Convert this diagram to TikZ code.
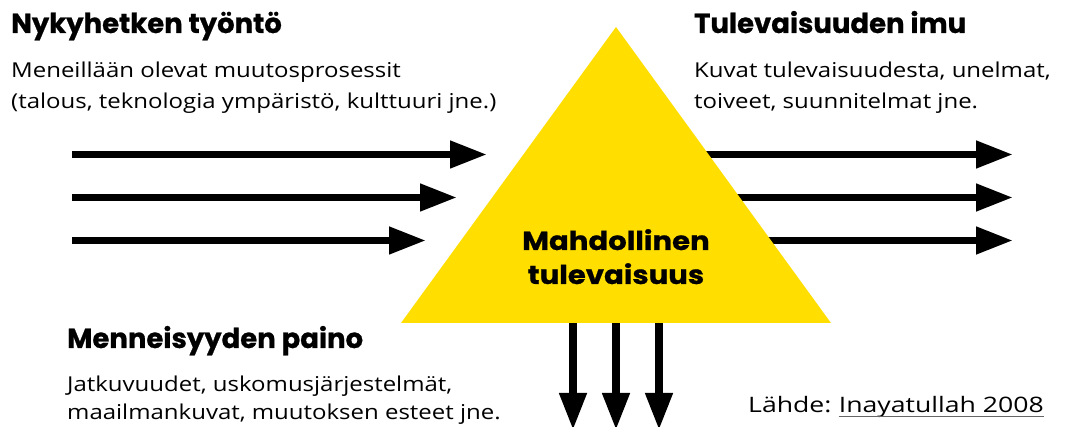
\documentclass[tikz,border=0pt]{standalone}
\usepackage{fontspec}
\usetikzlibrary{arrows.meta}
\setmainfont{Open Sans}
\newfontfamily\bodyfont{Open Sans}[FakeStretch=1.17]
\newfontfamily\srcfont{Open Sans}[FakeStretch=1.25]
\newfontfamily\headfont{Poppins}[BoldFeatures={FakeBold=0.8}]
\newfontfamily\midfont{Poppins}[FakeStretch=1.12, BoldFeatures={FakeBold=0.8}]
\definecolor{tyellow}{HTML}{FFDE00}
\definecolor{linkgray}{HTML}{666666}
\begin{document}
\begin{tikzpicture}[x=1pt,y=-1pt,
  head/.style={anchor=base west, inner sep=0pt, font=\headfont\bfseries\fontsize{27.5}{30}\selectfont},
  midhead/.style={anchor=base, inner sep=0pt, font=\midfont\bfseries\fontsize{26}{28}\selectfont},
  body/.style={anchor=base west, inner sep=0pt, font=\bodyfont\fontsize{20.5}{24}\selectfont},
  srcstyle/.style={anchor=base west, inner sep=0pt, font=\srcfont\fontsize{21.3}{24}\selectfont},
  arr/.style={line width=7.5pt, -{Triangle[length=37pt,width=26pt]}}]
\useasboundingbox (0,0) rectangle (1088,427);
% coordinates
\coordinate (apex) at (616,27);
\coordinate (bl) at (401,323);
\coordinate (br) at (831,323);
\coordinate (l1s) at (72,154.5);  \coordinate (l1e) at (487,154.5);
\coordinate (l2s) at (72,197.5);  \coordinate (l2e) at (457,197.5);
\coordinate (l3s) at (72,240.5);  \coordinate (l3e) at (426,240.5);
\coordinate (r1s) at (616,154.5); \coordinate (r1e) at (1013,154.5);
\coordinate (r2s) at (616,197.5); \coordinate (r2e) at (1013,197.5);
\coordinate (r3s) at (616,240.5); \coordinate (r3e) at (1013,240.5);
\coordinate (d1s) at (573,300);   \coordinate (d1e) at (573,430);
\coordinate (d2s) at (616,300);   \coordinate (d2e) at (616,430);
\coordinate (d3s) at (659,300);   \coordinate (d3e) at (659,430);
% arrows
\draw[arr] (l1s) -- (l1e);
\draw[arr] (l2s) -- (l2e);
\draw[arr] (l3s) -- (l3e);
\draw[arr] (r1s) -- (r1e);
\draw[arr] (r2s) -- (r2e);
\draw[arr] (r3s) -- (r3e);
\draw[arr] (d1s) -- (d1e);
\draw[arr] (d2s) -- (d2e);
\draw[arr] (d3s) -- (d3e);
% triangle
\fill[tyellow] (apex) -- (br) -- (bl) -- cycle;
\node[midhead] (m1) at (616,250) {Mahdollinen};
\node[midhead] (m2) at (616,284) {tulevaisuus};
% texts
\node[head] (h1) at (11,33) {Nykyhetken työntö};
\node[body] (b1a) at (11,78) {Meneillään olevat muutosprosessit};
\node[body] (b1b) at (11,108.5) {(talous, teknologia ympäristö, kulttuuri jne.)};
\node[head] (h2) at (694,33) {Tulevaisuuden imu};
\node[body] (b2a) at (694,78) {Kuvat tulevaisuudesta, unelmat,};
\node[body] (b2b) at (694,108.5) {toiveet, suunnitelmat jne.};
\node[head] (h3) at (67,348) {Menneisyyden paino};
\node[body] (b3a) at (67,392) {Jatkuvuudet, uskomusjärjestelmät,};
\node[body] (b3b) at (67,420) {maailmankuvat, muutoksen esteet jne.};
\node[srcstyle] (src) at (748,413) {Lähde:};
\node[srcstyle] (link) at ([xshift=7pt]src.base east) {Inayatullah 2008};
\draw[linkgray, line width=1.4pt] ([yshift=-3.5pt]link.base west) -- ([yshift=-3.5pt]link.base east);
\end{tikzpicture}
\end{document}
